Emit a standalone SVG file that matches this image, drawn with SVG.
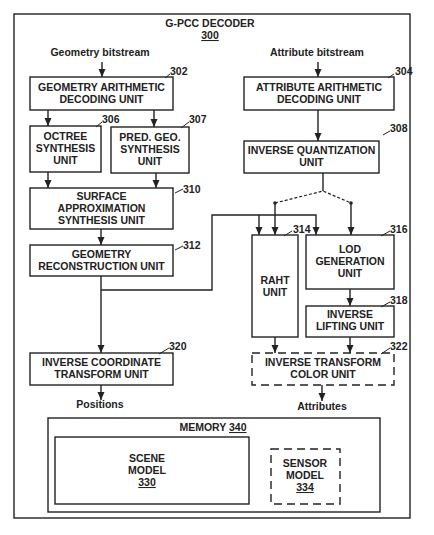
<svg xmlns="http://www.w3.org/2000/svg" width="434" height="535" viewBox="0 0 434 535">
<style>
text{font-family:"Liberation Sans",Arial,sans-serif;font-weight:bold;font-size:10.5px;fill:#222;text-anchor:middle}
.box{fill:#fff;stroke:#222;stroke-width:1.4}
.dbox{fill:#fff;stroke:#222;stroke-width:1.4;stroke-dasharray:8,5}
.ln{fill:none;stroke:#222;stroke-width:1.4}
.dl{fill:none;stroke:#222;stroke-width:1.2;stroke-dasharray:3,2}
.lbl{text-anchor:start}
.ld{fill:none;stroke:#222;stroke-width:1}
</style>
<defs>
<marker id="ah" viewBox="0 0 8 8" refX="8" refY="4" markerWidth="8" markerHeight="8" markerUnits="userSpaceOnUse" orient="auto">
<path d="M0,0.5 L8,4 L0,7.5 Z" fill="#222"/>
</marker>
</defs>
<rect x="0" y="0" width="434" height="535" fill="#fff"/>
<g id="frame">
<rect x="14" y="14" width="396" height="504" class="box"/>
<text x="210" y="27">G-PCC DECODER</text>
<text x="210" y="39" text-decoration="underline">300</text>
<text x="100" y="56">Geometry bitstream</text>
<text x="317" y="56">Attribute bitstream</text>
<text x="100" y="408">Positions</text>
<text x="322" y="410">Attributes</text>
</g>
<g id="connectors">
<line x1="102" y1="62" x2="102" y2="77" class="ln" marker-end="url(#ah)"/>
<line x1="318" y1="62" x2="318" y2="77" class="ln" marker-end="url(#ah)"/>
<line x1="48" y1="110" x2="48" y2="126" class="ln" marker-end="url(#ah)"/>
<line x1="154" y1="110" x2="154" y2="127" class="ln" marker-end="url(#ah)"/>
<line x1="48" y1="172" x2="48" y2="188" class="ln" marker-end="url(#ah)"/>
<line x1="156" y1="173" x2="156" y2="188" class="ln" marker-end="url(#ah)"/>
<line x1="101" y1="229" x2="101" y2="245" class="ln" marker-end="url(#ah)"/>
<line x1="101" y1="276" x2="101" y2="353" class="ln" marker-end="url(#ah)"/>
<polyline points="101,290 212,290 212,215 316,215 316,235" class="ln" marker-end="url(#ah)"/>
<line x1="259" y1="215" x2="259" y2="235" class="ln" marker-end="url(#ah)"/>
<line x1="318" y1="110" x2="318" y2="141" class="ln" marker-end="url(#ah)"/>
<line x1="323" y1="173" x2="323" y2="191" class="ln"/>
<polyline points="275,203 323,191 351,203" class="dl"/>
<circle cx="275" cy="203" r="1.8" fill="#222"/>
<circle cx="351" cy="203" r="1.8" fill="#222"/>
<line x1="275" y1="203" x2="275" y2="235" class="ln" marker-end="url(#ah)"/>
<line x1="351" y1="203" x2="351" y2="235" class="ln" marker-end="url(#ah)"/>
<line x1="350" y1="289" x2="350" y2="306" class="ln" marker-end="url(#ah)"/>
<line x1="275" y1="337" x2="275" y2="353" class="ln" marker-end="url(#ah)"/>
<line x1="350" y1="337" x2="350" y2="353" class="ln" marker-end="url(#ah)"/>
<line x1="101" y1="385" x2="101" y2="400" class="ln" marker-end="url(#ah)"/>
<line x1="322" y1="385" x2="322" y2="401" class="ln" marker-end="url(#ah)"/>
</g>
<g id="n302">
<rect x="30" y="77" width="143" height="33" class="box"/>
<text x="101.5" y="91">GEOMETRY ARITHMETIC</text>
<text x="101.5" y="103">DECODING UNIT</text>
<path d="M165,78 L170,74" class="ld"/><text x="170" y="75" class="lbl">302</text>
</g>
<g id="n304">
<rect x="244" y="77" width="150" height="33" class="box"/>
<text x="319" y="91">ATTRIBUTE ARITHMETIC</text>
<text x="319" y="103">DECODING UNIT</text>
<path d="M388,78 L394,74" class="ld"/><text x="395" y="75" class="lbl">304</text>
</g>
<g id="n306">
<rect x="30" y="126" width="71" height="46" class="box"/>
<text x="65.5" y="140">OCTREE</text>
<text x="65.5" y="152">SYNTHESIS</text>
<text x="65.5" y="164">UNIT</text>
<path d="M96,127 L102,122" class="ld"/><text x="102" y="123" class="lbl">306</text>
</g>
<g id="n307">
<rect x="111" y="127" width="78" height="46" class="box"/>
<text x="150" y="141">PRED. GEO.</text>
<text x="150" y="153">SYNTHESIS</text>
<text x="150" y="165">UNIT</text>
<path d="M181,128 L189,122" class="ld"/><text x="189" y="123" class="lbl">307</text>
</g>
<g id="n308">
<rect x="244" y="141" width="135" height="32" class="box"/>
<text x="311.5" y="154">INVERSE QUANTIZATION</text>
<text x="311.5" y="166">UNIT</text>
<path d="M383,135 L390,131" class="ld"/><text x="390" y="132" class="lbl">308</text>
</g>
<g id="n310">
<rect x="30" y="188" width="143" height="41" class="box"/>
<text x="101.5" y="200">SURFACE</text>
<text x="101.5" y="212">APPROXIMATION</text>
<text x="101.5" y="224">SYNTHESIS UNIT</text>
<path d="M175,193 L183,189" class="ld"/><text x="183" y="193" class="lbl">310</text>
</g>
<g id="n312">
<rect x="30" y="245" width="143" height="31" class="box"/>
<text x="101.5" y="258">GEOMETRY</text>
<text x="101.5" y="270">RECONSTRUCTION UNIT</text>
<path d="M175,250 L183,246" class="ld"/><text x="183" y="249" class="lbl">312</text>
</g>
<g id="n314">
<rect x="252" y="235" width="46" height="102" class="box"/>
<text x="275" y="284">RAHT</text>
<text x="275" y="296">UNIT</text>
<path d="M284,236 L292,231" class="ld"/><text x="293" y="233" class="lbl">314</text>
</g>
<g id="n316">
<rect x="306" y="235" width="88" height="54" class="box"/>
<text x="350" y="253">LOD</text>
<text x="350" y="265">GENERATION</text>
<text x="350" y="277">UNIT</text>
<path d="M381,236 L390,231" class="ld"/><text x="390" y="233" class="lbl">316</text>
</g>
<g id="n318">
<rect x="306" y="306" width="88" height="31" class="box"/>
<text x="350" y="318">INVERSE</text>
<text x="350" y="330">LIFTING UNIT</text>
<path d="M381,307 L390,302" class="ld"/><text x="390" y="304" class="lbl">318</text>
</g>
<g id="n320">
<rect x="30" y="353" width="143" height="32" class="box"/>
<text x="101.5" y="366">INVERSE COORDINATE</text>
<text x="101.5" y="378">TRANSFORM UNIT</text>
<path d="M159,354 L169,348" class="ld"/><text x="169" y="350" class="lbl">320</text>
</g>
<g id="n322">
<rect x="252" y="353" width="142" height="32" class="dbox"/>
<text x="323" y="366">INVERSE TRANSFORM</text>
<text x="323" y="378">COLOR UNIT</text>
<path d="M381,354 L390,348" class="ld"/><text x="390" y="350" class="lbl">322</text>
</g>
<g id="n340">
<rect x="48" y="418" width="332" height="94" class="box"/>
<text x="213" y="431">MEMORY <tspan text-decoration="underline">340</tspan></text>
</g>
<g id="n330">
<rect x="55" y="437" width="194" height="67" class="box"/>
<text x="147" y="462">SCENE</text>
<text x="147" y="474">MODEL</text>
<text x="147" y="486" text-decoration="underline">330</text>
</g>
<g id="n334">
<rect x="271" y="449" width="69" height="55" class="dbox"/>
<text x="305" y="467">SENSOR</text>
<text x="305" y="479">MODEL</text>
<text x="305" y="491" text-decoration="underline">334</text>
</g>
</svg>
